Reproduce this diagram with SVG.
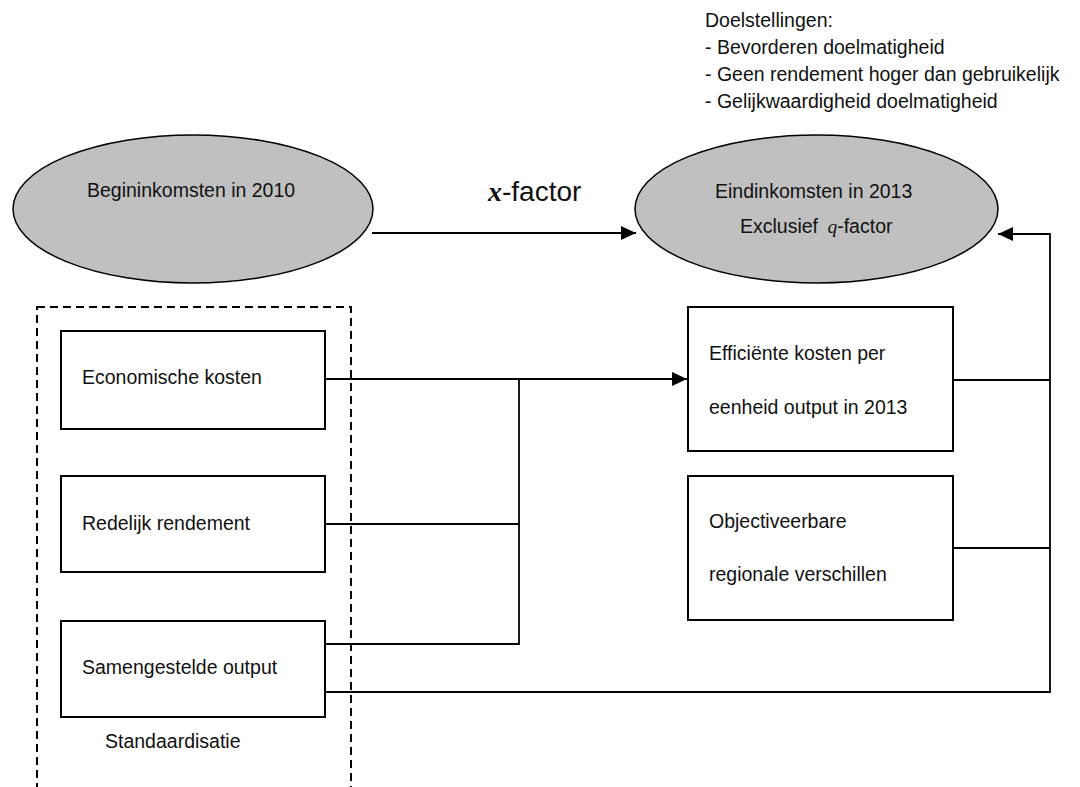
<svg xmlns="http://www.w3.org/2000/svg" width="1080" height="787" viewBox="0 0 1080 787">
  <defs>
    <style>
      .t { font-family: "Liberation Sans", Arial, sans-serif; font-size: 19.5px; fill: #111; }
      .box { fill: #fff; stroke: #000; stroke-width: 2; }
      .ell { fill: #c0c0c0; stroke: #000; stroke-width: 1.5; }
      .ln { fill: none; stroke: #000; stroke-width: 1.8; }
      .dash { fill: none; stroke: #000; stroke-width: 2; stroke-dasharray: 8 5; }
      .serif-i { font-family: "Liberation Serif", "Times New Roman", serif; font-style: italic; }
    </style>
    <marker id="arr" markerUnits="userSpaceOnUse" markerWidth="15" markerHeight="14" refX="15" refY="7" orient="auto">
      <path d="M0,0 L15,7 L0,14 z" fill="#000"/>
    </marker>
  </defs>
  <rect width="1080" height="787" fill="#fff"/>

  <g id="goals">
    <text class="t" x="705" y="27">Doelstellingen:</text>
    <text class="t" x="705" y="54">- Bevorderen doelmatigheid</text>
    <text class="t" x="705" y="81">- Geen rendement hoger dan gebruikelijk</text>
    <text class="t" x="705" y="108">- Gelijkwaardigheid doelmatigheid</text>
  </g>

  <g id="standaardisatie">
    <rect class="dash" x="37" y="307" width="314" height="500"/>
    <text class="t" x="105" y="748">Standaardisatie</text>
  </g>

  <g id="connectors">
    <line class="ln" x1="372" y1="233" x2="636" y2="233" marker-end="url(#arr)"/>
    <line class="ln" x1="325" y1="379" x2="687" y2="379" marker-end="url(#arr)"/>
    <polyline class="ln" points="325,524 519,524"/>
    <polyline class="ln" points="325,644 519,644 519,379"/>
    <polyline class="ln" points="325,692 1050,692 1050,234 998,234" marker-end="url(#arr)"/>
    <line class="ln" x1="953" y1="380" x2="1050" y2="380"/>
    <line class="ln" x1="953" y1="548" x2="1050" y2="548"/>
  </g>

  <g id="begin">
    <ellipse class="ell" cx="193" cy="209" rx="180" ry="74"/>
    <text class="t" x="87" y="197">Begininkomsten in 2010</text>
  </g>

  <g id="xfactor">
    <text class="t" x="488" y="201" style="font-size:28px"><tspan font-family="Liberation Serif, Times New Roman, serif" font-style="italic" font-weight="bold">x</tspan>-factor</text>
  </g>

  <g id="eind">
    <ellipse class="ell" cx="816.5" cy="209" rx="181.5" ry="74"/>
    <text class="t" x="715" y="198">Eindinkomsten in 2013</text>
    <text class="t" x="740" y="233">Exclusief <tspan class="serif-i" dx="4">q</tspan>-factor</text>
  </g>

  <g id="economische">
    <rect class="box" x="61" y="331" width="264" height="98"/>
    <text class="t" x="82" y="384">Economische kosten</text>
  </g>

  <g id="redelijk">
    <rect class="box" x="61" y="476" width="264" height="96"/>
    <text class="t" x="82" y="530">Redelijk rendement</text>
  </g>

  <g id="samengesteld">
    <rect class="box" x="61" y="621" width="264" height="96"/>
    <text class="t" x="82" y="674">Samengestelde output</text>
  </g>

  <g id="efficiente">
    <rect class="box" x="688" y="307" width="265" height="144"/>
    <text class="t" x="709" y="360">Efficiënte kosten per</text>
    <text class="t" x="709" y="414">eenheid output in 2013</text>
  </g>

  <g id="objectiveerbaar">
    <rect class="box" x="688" y="476" width="265" height="144"/>
    <text class="t" x="709" y="528">Objectiveerbare</text>
    <text class="t" x="709" y="581">regionale verschillen</text>
  </g>
</svg>
